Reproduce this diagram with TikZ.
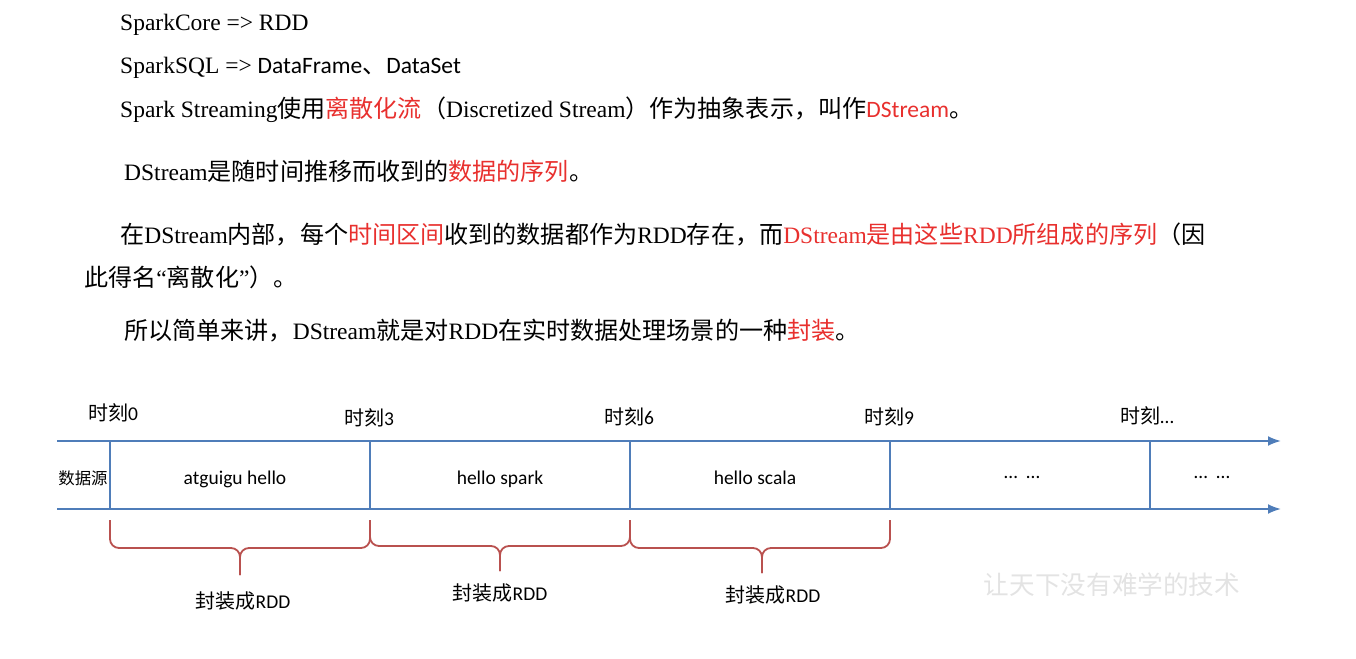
\documentclass[tikz,border=0pt]{standalone}
\usepackage{fontspec}
\setmainfont{Liberation Serif}
\newfontfamily\cjk[Scale=1.025]{Noto Sans CJK SC}
\newfontfamily\cali{Carlito}
\usetikzlibrary{arrows.meta}
\definecolor{axisblue}{HTML}{4F7DB9}
\definecolor{bracered}{HTML}{B9514F}
\definecolor{hlred}{HTML}{E8302E}

\newcommand{\zh}[1]{{\cjk #1}}
\newcommand{\hl}[1]{\textcolor{hlred}{#1}}

\begin{document}
\begin{tikzpicture}[
		x=1pt,y=-1pt,
		every node/.style={inner sep=0pt},
		textline/.style={anchor=west,font=\fontsize{23.5}{28}\selectfont},
		timelabel/.style={font=\cali\fontsize{19.5}{22}\selectfont},
		cell/.style={font=\cali\fontsize{19.5}{22}\selectfont},
		timeaxis/.style={axisblue,line width=2pt,-{Latex[length=13pt,width=10pt]}},
		sep/.style={axisblue,line width=2pt},
		rddbrace/.style={bracered,line width=1.8pt,rounded corners=9pt},
		rddlabel/.style={font=\cali\fontsize{19.5}{22}\selectfont}
		]
	\useasboundingbox (0,0) rectangle (1356,658);
	
	% text above the picture
	\node[textline] (core) at (120,25) {SparkCore => RDD};
	\node[textline] (sqlapi) at (120,68) {SparkSQL => {\cali DataFrame}\zh{、}{\cali DataSet}};
	\node[textline] (dstr) at (120,110) {Spark Streaming\zh{使用\hl{离散化流}（}Discretized Stream\zh{）作为抽象表示，叫作}\hl{\cali DStream}\zh{。}};
	\node[textline] (dseq) at (124,171) {DStream\zh{是随时间推移而收到的\hl{数据的序列}。}};
	\node[textline] (inner) at (120,234) {\zh{在}DStream\zh{内部，每个\hl{时间区间}收到的数据都作为}RDD\zh{存在，而}\hl{DStream\zh{是由这些}RDD\zh{所组成的序列}}\zh{（因}};
	\node[textline] (innerb) at (84,277) {\zh{此得名}“\zh{离散化}”\zh{）。}};
	\node[textline] (wrap) at (124,331) {\zh{所以简单来讲，}DStream\zh{就是对}RDD\zh{在实时数据处理场景的一种\hl{封装}。}};
	
	% time axis
	\coordinate (a0) at (57,441);
	\coordinate (a1) at (1281,441);
	\coordinate (b0) at (57,509);
	\coordinate (b1) at (1281,509);
	\draw[timeaxis] (a0) -- (a1);
	\draw[timeaxis] (b0) -- (b1);
	\foreach \x [count=\i] in {110,370,630,890,1150}
	{
		\coordinate (u\i) at (\x,441);
		\coordinate (d\i) at (\x,509);
		\draw[sep] (u\i) -- (d\i);
	}
	
	\node[timelabel] (t0) at (113,413) {\zh{时刻}0};
	\node[timelabel] (t3) at (369,418) {\zh{时刻}3};
	\node[timelabel] (t6) at (629,417) {\zh{时刻}6};
	\node[timelabel] (t9) at (889,417) {\zh{时刻}9};
	\node[timelabel] (tn) at (1147,416) {\zh{时刻}…};
	
	\node[font=\cjk\fontsize{16}{20}\selectfont] (src) at (83,478) {数据源};
	\node[cell] (c1) at (235,479) {atguigu hello};
	\node[cell] (c2) at (500,479) {hello spark};
	\node[cell] (c3) at (755,478) {hello scala};
	\node[cell] (c4) at (1022,477) {…\ \ …};
	\node[cell] (c5) at (1212,477) {…\ \ …};
	
	% braces
	\coordinate (p1) at (110,520);
	\coordinate (p2) at (370,520);
	\coordinate (p3) at (630,520);
	\coordinate (p4) at (890,520);
	\coordinate (m1) at (240,575);
	\coordinate (m2) at (500,571);
	\coordinate (m3) at (762,573);
	\draw[rddbrace] (p1) -- ++(0,28) -| (m1);
	\draw[rddbrace] (p2) -- ++(0,28) -| (m1);
	\draw[rddbrace] (p2) -- ++(0,26) -| (m2);
	\draw[rddbrace] (p3) -- ++(0,26) -| (m2);
	\draw[rddbrace] (p3) -- ++(0,28) -| (m3);
	\draw[rddbrace] (p4) -- ++(0,28) -| (m3);
	
	\node[rddlabel] (r1) at (243,601) {\zh{封装成}RDD};
	\node[rddlabel] (r2) at (500,593) {\zh{封装成}RDD};
	\node[rddlabel] (r3) at (773,595) {\zh{封装成}RDD};
	
	\node[font=\cjk\fontsize{25}{28}\selectfont,text=gray!22] (mark) at (1112,585) {让天下没有难学的技术};
\end{tikzpicture}
\end{document}
